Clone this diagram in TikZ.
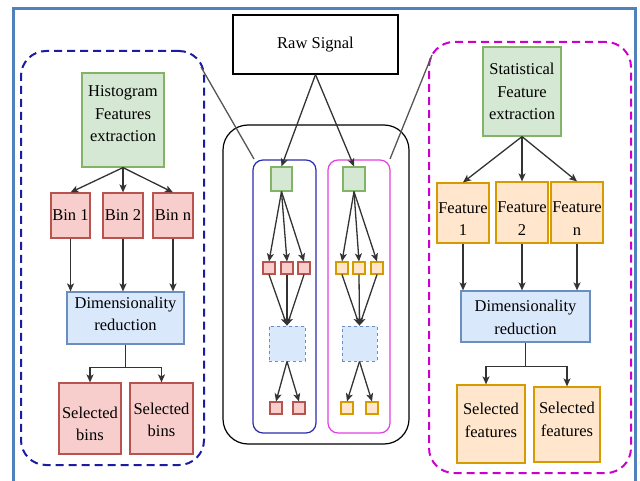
\documentclass[tikz,border=0pt]{standalone}
\usepackage{fontspec}
\setmainfont{Liberation Serif}
\usetikzlibrary{arrows.meta}
\definecolor{gfill}{HTML}{D5E8D4}\definecolor{gline}{HTML}{82B366}
\definecolor{rfill}{HTML}{F8CECC}\definecolor{rline}{HTML}{B85450}
\definecolor{ofill}{HTML}{FFE6CC}\definecolor{oline}{HTML}{D79B00}
\definecolor{bfill}{HTML}{DAE8FC}\definecolor{bline}{HTML}{6C8EBF}
\definecolor{framec}{HTML}{4F81BD}
\definecolor{navyc}{HTML}{1C1CA0}
\definecolor{magc}{HTML}{CC00CC}
\definecolor{inblue}{HTML}{2B2BB0}
\definecolor{inmag}{HTML}{E040E0}
\definecolor{arrc}{HTML}{333333}
\definecolor{grayl}{HTML}{555555}
\newcommand{\shiftedtext}[2]{\raisebox{#1}[\height][\depth]{\begin{tabular}{@{}c@{}}#2\end{tabular}}}
\begin{document}
\begin{tikzpicture}[x=1pt,y=-1pt,
  box/.style={draw, line width=1.2pt, inner sep=1pt, align=center,
    font=\fontsize{16.5}{22.5}\selectfont},
  gbox/.style={box, fill=gfill, draw=gline},
  rbox/.style={box, fill=rfill, draw=rline},
  obox/.style={box, fill=ofill, draw=oline},
  bbox/.style={box, fill=bfill, draw=bline},
  sq/.style={draw, line width=1.1pt, inner sep=0pt, minimum width=12pt, minimum height=12pt},
  arr/.style={draw=arrc, line width=1.3pt, -{Stealth[length=8pt,width=7pt,inset=2pt]}},
  region/.style={line width=2pt, rounded corners=25pt, dash pattern=on 8pt off 5pt, inner sep=0pt},
  inreg/.style={line width=1.2pt, rounded corners=10pt, inner sep=0pt},
  link/.style={draw=grayl, line width=1.3pt}
]
\useasboundingbox (0,0) rectangle (640,481);
% frame
\draw[framec, line width=3pt] (13.5,482) -- (13.5,8.5) -- (635.5,8.5) -- (635.5,482);

% regions
\node[region, draw=navyc, minimum width=183pt, minimum height=414pt] (regL) at (112.5,258) {};
\node[region, draw=magc, minimum width=202pt, minimum height=431pt] (regR) at (530,257.5) {};
\node[draw=black, line width=1.2pt, rounded corners=25pt, inner sep=0pt, minimum width=186pt, minimum height=319pt] (mid) at (316,284.5) {};
\node[inreg, draw=inblue, minimum width=63pt, minimum height=273pt] (inL) at (284.5,296.5) {};
\node[inreg, draw=inmag, minimum width=62pt, minimum height=273pt] (inR) at (359,296.5) {};

% raw signal
\node[box, draw=black, fill=white, minimum width=165pt, minimum height=59pt] (raw) at (315.5,44.5) {Raw Signal};

% left group
\node[gbox, minimum width=82pt, minimum height=94pt] (hist) at (123,120) {\shiftedtext{5pt}{Histogram\\Features\\extraction}};
\node[rbox, minimum width=39pt, minimum height=45pt] (bin1) at (70.5,215.5) {Bin 1};
\node[rbox, minimum width=40pt, minimum height=45pt] (bin2) at (123,215.5) {Bin 2};
\node[rbox, minimum width=40pt, minimum height=45pt] (binn) at (173,215.5) {Bin n};
\node[bbox, minimum width=117pt, minimum height=52pt] (dimL) at (125.5,318) {\shiftedtext{3pt}{Dimensionality\\reduction}};
\node[rbox, minimum width=62pt, minimum height=71pt] (selb1) at (90,418.5) {\shiftedtext{-6.5pt}{Selected\\bins}};
\node[rbox, minimum width=63pt, minimum height=71pt] (selb2) at (161.5,418.5) {\shiftedtext{-2.5pt}{Selected\\bins}};

% right group
\node[gbox, minimum width=78pt, minimum height=89pt] (stat) at (522,91.5) {Statistical\\Feature\\extraction};
\node[obox, minimum width=52pt, minimum height=60pt] (f1) at (463,213) {\shiftedtext{-7pt}{Feature\\1}};
\node[obox, minimum width=52pt, minimum height=61pt] (f2) at (522,212.5) {\shiftedtext{-7pt}{Feature\\2}};
\node[obox, minimum width=52pt, minimum height=61pt] (fn) at (577,212.5) {\shiftedtext{-7pt}{Feature\\n}};
\node[bbox, minimum width=129pt, minimum height=51pt] (dimR) at (525.5,316.5) {\shiftedtext{-2pt}{Dimensionality\\reduction}};
\node[obox, minimum width=68pt, minimum height=78pt] (self1) at (491,424) {\shiftedtext{2.5pt}{Selected\\features}};
\node[obox, minimum width=66pt, minimum height=75pt] (self2) at (567,424.5) {\shiftedtext{4pt}{Selected\\features}};

% middle miniature
\node[sq, fill=gfill, draw=gline, minimum width=21pt, minimum height=24pt] (gL) at (281.5,179) {};
\node[sq, fill=gfill, draw=gline, minimum width=22pt, minimum height=24pt] (gR) at (354,179) {};
\node[sq, fill=rfill, draw=rline] (rL1) at (269,268) {};
\node[sq, fill=rfill, draw=rline] (rL2) at (287,268) {};
\node[sq, fill=rfill, draw=rline] (rL3) at (304,268) {};
\node[sq, fill=ofill, draw=oline] (oR1) at (342,268) {};
\node[sq, fill=ofill, draw=oline] (oR2) at (359,268) {};
\node[sq, fill=ofill, draw=oline] (oR3) at (377,268) {};
\node[sq, fill=bfill, draw=bline, dashed, line width=0.9pt, minimum width=36pt, minimum height=35pt] (dL) at (287,343.5) {};
\node[sq, fill=bfill, draw=bline, dashed, line width=0.9pt, minimum width=35pt, minimum height=35pt] (dR) at (359.5,343.5) {};
\node[sq, fill=rfill, draw=rline] (bL1) at (276,408) {};
\node[sq, fill=rfill, draw=rline] (bL2) at (299,408) {};
\node[sq, fill=ofill, draw=oline] (bR1) at (347,408) {};
\node[sq, fill=ofill, draw=oline] (bR2) at (372,408) {};

% gray links
\coordinate (glA) at (201,67);
\coordinate (glB) at (254,159);
\coordinate (grA) at (390,159);
\coordinate (grB) at (432,55);
\draw[link] (glA) -- (glB);
\draw[link] (grA) -- (grB);

% raw arrows
\draw[arr] (raw.south) -- (gL.north);
\draw[arr] (raw.south) -- (gR.north);

% left arrows
\foreach \b in {bin1,bin2,binn}{
  \draw[arr] (hist.south) -- (\b.north);
  \draw[arr] (\b.south) -- (\b.south |- dimL.north);
}
\draw[draw=arrc, line width=1.3pt] (dimL.south) -- ++(0,23) coordinate (jL);
\draw[arr] (jL) -| (selb1.north);
\draw[arr] (jL) -| (selb2.north);

% right arrows
\foreach \b in {f1,f2,fn}{
  \draw[arr] (stat.south) -- (\b.north);
  \draw[arr] (\b.south) -- (\b.south |- dimR.north);
}
\draw[draw=arrc, line width=1.3pt] (dimR.south) -- ++(0,24) coordinate (jR);
\draw[arr] (jR) -| ([xshift=-5pt]self1.north);
\draw[arr] (jR) -| (self2.north);

% middle arrows
\foreach \s in {rL1,rL2,rL3}{
  \draw[arr] (gL.south) -- (\s.north);
  \draw[arr] (\s.south) -- (dL.north);
}
\foreach \s in {oR1,oR2,oR3}{
  \draw[arr] (gR.south) -- (\s.north);
  \draw[arr] (\s.south) -- (dR.north);
}
\draw[arr] (dL.south) -- (bL1.north);
\draw[arr] (dL.south) -- (bL2.north);
\draw[arr] (dR.south) -- (bR1.north);
\draw[arr] (dR.south) -- (bR2.north);
\end{tikzpicture}
\end{document}
